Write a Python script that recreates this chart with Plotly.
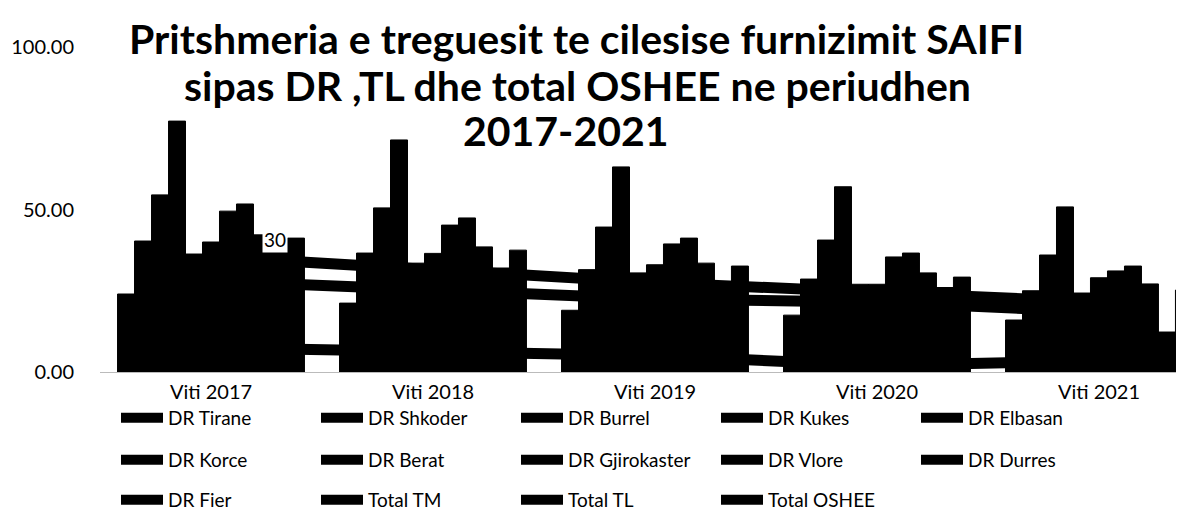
import plotly.graph_objects as go

years = ["Viti 2017", "Viti 2018", "Viti 2019", "Viti 2020", "Viti 2021"]

dr_tirane = [24.0, 21.2, 19.0, 17.5, 16.0]
dr_shkoder = [40.3, 36.6, 31.5, 28.6, 25.0]
dr_burrel = [54.5, 50.5, 44.6, 40.6, 36.0]
dr_kukes = [77.2, 71.4, 63.1, 57.0, 50.8]
dr_elbasan = [36.3, 33.5, 30.5, 27.0, 24.3]
dr_korce = [40.0, 36.5, 33.0, 27.0, 29.0]
dr_berat = [49.5, 45.2, 39.4, 35.4, 31.1]
dr_gjirokaster = [51.7, 47.4, 41.2, 36.6, 32.6]
dr_vlore = [42.2, 38.5, 33.5, 30.5, 27.1]
dr_durres = [40.0, 32.0, 27.0, 26.0, 12.3]
dr_fier = [41.2, 37.5, 32.6, 29.2, 25.2]

total_tm = [35.5, 31.5, 27.5, 24.5, 21.5]
total_tl = [7.5, 6.0, 5.0, 2.0, 3.5]
total_oshee = [28.0, 25.5, 22.5, 21.5, 18.5]

y_ticks = [0, 50, 100]
y_tick_labels = ["0.00", "50.00", "100.00"]

title_lines = [
    "Pritshmeria e treguesit te cilesise furnizimit SAIFI",
    "sipas DR ,TL dhe total OSHEE ne periudhen",
    "2017-2021",
]

FONT = "Lato, 'Open Sans', sans-serif"

bar_series = [
    ("DR Tirane", dr_tirane, "legend"),
    ("DR Shkoder", dr_shkoder, "legend"),
    ("DR Burrel", dr_burrel, "legend"),
    ("DR Kukes", dr_kukes, "legend"),
    ("DR Elbasan", dr_elbasan, "legend"),
    ("DR Korce", dr_korce, "legend2"),
    ("DR Berat", dr_berat, "legend2"),
    ("DR Gjirokaster", dr_gjirokaster, "legend2"),
    ("DR Vlore", dr_vlore, "legend2"),
    ("DR Durres", dr_durres, "legend2"),
    ("DR Fier", dr_fier, "legend3"),
]
line_series = [
    ("Total TM", total_tm),
    ("Total TL", total_tl),
    ("Total OSHEE", total_oshee),
]

fig = go.Figure()
rank = 1
for name, vals, lg in bar_series:
    fig.add_trace(go.Bar(
        x=years, y=vals, name=name, legendgroup=name, showlegend=False,
        marker=dict(color="#000000", line=dict(width=1, color="#000000")),
    ))
    # legend swatch drawn as a wide, thick block like the original legend keys
    fig.add_trace(go.Scatter(
        x=[None], y=[None], name=name, legendgroup=name, legend=lg,
        mode="lines", line=dict(color="#000000", width=11),
        legendrank=rank, hoverinfo="skip",
    ))
    rank += 1
for name, vals in line_series:
    fig.add_trace(go.Scatter(
        x=years, y=vals, name=name, legend="legend3", mode="lines",
        line=dict(color="#000000", width=11), legendrank=rank,
    ))
    rank += 1

# page is offset by the body margin (8px); figure coordinates = page - 8
W, H = 1176, 522
L, T, B = 92, 39, 158
PW = W - L
PH = H - T - B


def lx(px_page):
    return (px_page - 8 - L) / PW


def ly(py_page):
    return (H - B - (py_page - 8)) / PH


leg_common = dict(
    orientation="h", xanchor="left", yanchor="middle",
    font=dict(family=FONT, size=19, color="#000000"),
    entrywidth=143, entrywidthmode="pixels", itemwidth=42,
    bgcolor="rgba(0,0,0,0)", itemclick=False, itemdoubleclick=False,
)

title_y_page = [39, 85, 131]
title_x_page = [576, 577, 566]
annotations = []
for txt, xp, yp in zip(title_lines, title_x_page, title_y_page):
    annotations.append(dict(
        x=lx(xp), y=ly(yp), xref="paper", yref="paper",
        xanchor="center", yanchor="middle", showarrow=False,
        text="<b>" + txt + "</b>",
        font=dict(family=FONT, size=41, color="#000000"),
    ))
annotations.append(dict(
    x=0.29, y=40.8, xref="x", yref="y", text="30", showarrow=False,
    font=dict(family=FONT, size=19, color="#000000"), bgcolor="#ffffff",
))

fig.update_layout(
    width=W, height=H,
    margin=dict(l=L, r=0, t=T, b=B),
    paper_bgcolor="#ffffff", plot_bgcolor="#ffffff",
    barmode="group", bargap=0.158, bargroupgap=0,
    font=dict(family=FONT, size=19, color="#000000"),
    xaxis=dict(
        range=[-0.5, 4.383], showgrid=False, zeroline=False,
        showline=True, linecolor="#bbbbbb", linewidth=1,
        ticks="", tickfont=dict(family=FONT, size=20, color="#000000"),
        ticklabelstandoff=2,
    ),
    yaxis=dict(
        range=[0, 100], tickvals=y_ticks, ticktext=y_tick_labels,
        showgrid=False, zeroline=False, showline=False, ticks="",
        tickfont=dict(family=FONT, size=20, color="#000000"),
        ticklabelstandoff=25,
    ),
    legend=dict(x=lx(116), y=ly(418), **leg_common),
    legend2=dict(x=lx(116), y=ly(460), **leg_common),
    legend3=dict(x=lx(116), y=ly(500), **leg_common),
    annotations=annotations,
)

fig.write_html("out.html")
